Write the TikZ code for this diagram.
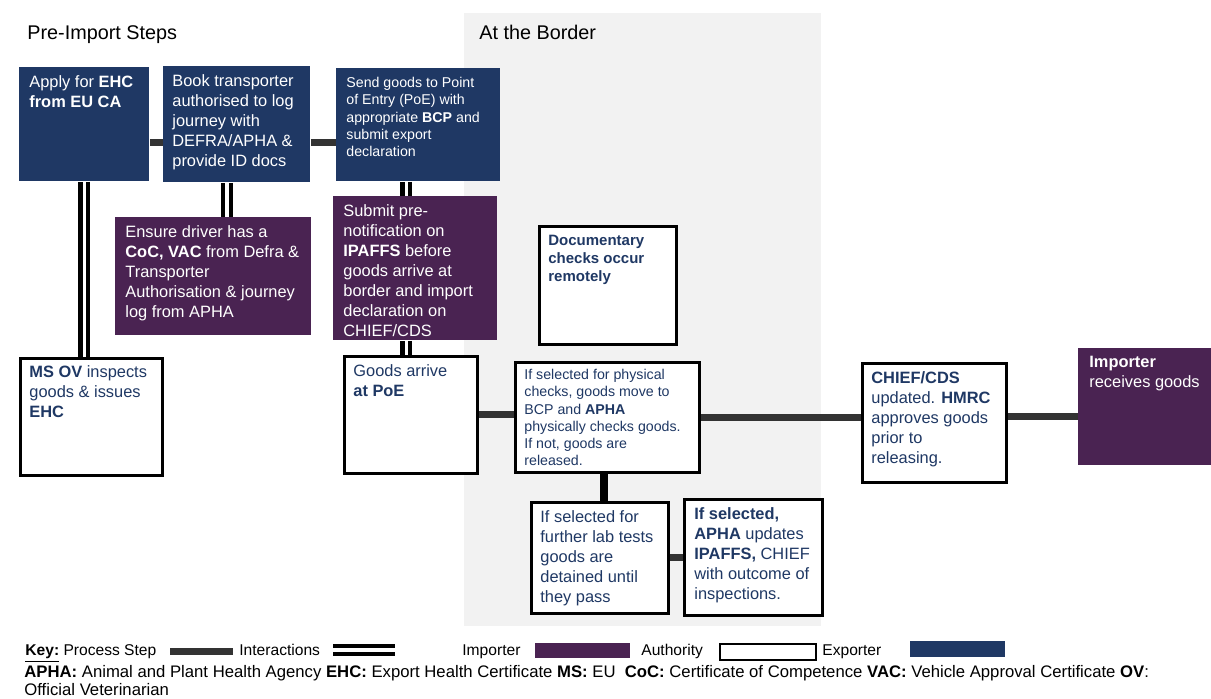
\documentclass[tikz,border=0pt]{standalone}
\usepackage{fontspec}
\setmainfont{Liberation Sans}
\usepackage{xcolor}
\usetikzlibrary{positioning}
\definecolor{expblue}{HTML}{1F3864}
\definecolor{imppurple}{HTML}{4A2352}
\definecolor{navy}{HTML}{1F3864}
\definecolor{borderbg}{HTML}{F2F2F2}
\definecolor{procgrey}{HTML}{333333}
\tikzset{
  exp/.style={anchor=north west, inner sep=0pt, fill=expblue},
  impbox/.style={anchor=north west, inner sep=0pt, fill=imppurple},
  auth/.style={anchor=north west, inner sep=0pt, fill=white, draw=black, line width=1.4pt},
  txt/.style={inner sep=0pt, align=left, font=\fontsize{8.2}{10}\selectfont, text=#1},
  txt/.default=navy,
  smalltxt/.style={font=\fontsize{7.1}{8.6}\selectfont},
  keytxt/.style={inner sep=0pt, anchor=base west, font=\fontsize{7.8}{9}\selectfont},
  abbrtxt/.style={inner sep=0pt, anchor=base west, font=\fontsize{8.35}{9}\selectfont},
  proc/.style={line width=3.5pt, draw=procgrey},
  inter/.style={draw=black, double=white, line width=2.2pt, double distance=1.6pt},
}
\pgfdeclarelayer{back}
\pgfdeclarelayer{links}
\pgfsetlayers{back,links,main}

\begin{document}
\begin{tikzpicture}[x=0.5pt, y=-0.5pt]
  \useasboundingbox (0,0) rectangle (1211,698);
  \begin{pgfonlayer}{back}
    \node[anchor=north west, inner sep=0pt, fill=borderbg, minimum width=178.5pt, minimum height=306.5pt] (border) at (464,13) {};
  \end{pgfonlayer}
  \node[anchor=base west, inner sep=0pt, font=\fontsize{9.9}{12}\selectfont] (pre) at (27,39) {Pre-Import Steps};
  \node[anchor=base west, inner sep=0pt, font=\fontsize{9.9}{12}\selectfont] (atb) at (479,39) {At the Border};

  % pre-import
  \node[exp, minimum width=65pt, minimum height=57pt] (ehc) at (19,67) {};
  \node[txt=white, below right=4pt and 5pt of ehc.north west] (ehc-t) {Apply for \textbf{EHC}\\\textbf{from EU CA}};
  \node[exp, minimum width=73.5pt, minimum height=58pt] (book) at (163,66) {};
  \node[txt=white, below right=4pt and 4.5pt of book.north west] (book-t) {Book transporter\\authorised to log\\journey with\\DEFRA/APHA \&\\provide ID docs};
  \node[exp, minimum width=82pt, minimum height=56.5pt] (send) at (336,68) {};
  \node[txt=white, smalltxt, below right=4.5pt and 5pt of send.north west] (send-t) {Send goods to Point\\of Entry (PoE) with\\appropriate \textbf{BCP} and\\submit export\\declaration};
  \node[impbox, minimum width=98pt, minimum height=59pt] (driver) at (115,217) {};
  \node[txt=white, below right=4pt and 5pt of driver.north west] (driver-t) {Ensure driver has a\\\textbf{CoC, VAC} from Defra \&\\Transporter\\Authorisation \& journey\\log from APHA};
  \node[impbox, minimum width=82pt, minimum height=72pt] (prenot) at (333,196) {};
  \node[txt=white, below right=4pt and 5pt of prenot.north west] (prenot-t) {Submit pre-\\notification on\\\textbf{IPAFFS} before\\goods arrive at\\border and import\\declaration on\\CHIEF/CDS};
  \node[auth, minimum width=71pt, minimum height=58.5pt] (msov) at (19,357) {};
  \node[txt, below right=4pt and 5pt of msov.north west] (msov-t) {\textbf{MS OV} inspects\\goods \& issues\\\textbf{EHC}};

  % at the border
  \node[auth, minimum width=66.5pt, minimum height=58.5pt] (arrive) at (343,355) {};
  \node[txt, below right=4.5pt and 5pt of arrive.north west] (arrive-t) {Goods arrive\\\textbf{at PoE}};
  \node[auth, minimum width=68.5pt, minimum height=59pt] (doc) at (538,225) {};
  \node[txt, font=\fontsize{7.5}{9}\selectfont\bfseries, below right=5pt and 5pt of doc.north west] (doc-t) {Documentary\\checks occur\\remotely};
  \node[auth, minimum width=92pt, minimum height=55pt] (phys) at (514,361) {};
  \node[txt, smalltxt, below right=4pt and 5pt of phys.north west] (phys-t) {If selected for physical\\checks, goods move to\\BCP and \textbf{APHA}\\physically checks goods.\\If not, goods are\\released.};
  \node[auth, minimum width=68.5pt, minimum height=55.5pt] (lab) at (530,501) {};
  \node[txt, below right=4.5pt and 5pt of lab.north west] (lab-t) {If selected for\\further lab tests\\goods are\\detained until\\they pass};
  \node[auth, minimum width=69pt, minimum height=58pt] (apha) at (683,498) {};
  \node[txt, below right=4.5pt and 5.5pt of apha.north west] (apha-t) {\textbf{If selected,}\\\textbf{APHA} updates\\\textbf{IPAFFS,} CHIEF\\with outcome of\\inspections.};
  \node[auth, minimum width=72pt, minimum height=59.5pt] (chief) at (861,362) {};
  \node[txt, below right=4.5pt and 5pt of chief.north west] (chief-t) {\textbf{CHIEF/CDS}\\updated. \textbf{HMRC}\\approves goods\\prior to\\releasing.};
  \node[impbox, minimum width=66.5pt, minimum height=58.5pt] (importer) at (1078,348) {};
  \node[txt=white, below right=4pt and 5.5pt of importer.north west] (importer-t) {\textbf{Importer}\\receives goods};

  % links
  \begin{pgfonlayer}{links}
    \draw[proc] ([yshift=-9pt]ehc.east) -- ([yshift=-9pt]ehc.east -| book.west);
    \draw[proc] ([yshift=-9pt]book.east) -- ([yshift=-9pt]book.east -| send.west);
    \draw[proc] (arrive.east) -- (arrive.east -| phys.west);
    \draw[proc] (phys.east) -- (phys.east -| chief.west);
    \draw[proc] ([yshift=3pt]chief.east) -- ([yshift=3pt]chief.east -| importer.west);
    \draw[line width=4pt] ([xshift=-1.5pt]phys.south) -- ([xshift=-1.5pt]phys.south |- lab.north);
    \draw[proc] (lab.east) -- (lab.east -| apha.west);
    \draw[inter] (ehc.south) -- (ehc.south |- msov.north);
    \draw[inter] ([xshift=-5pt]book.south) -- ([xshift=-5pt]book.south |- driver.north);
    \draw[inter] ([xshift=-6pt]send.south) -- ([xshift=-6pt]send.south |- prenot.north);
    \draw[inter] ([xshift=-4.5pt]prenot.south) -- ([xshift=-4.5pt]prenot.south |- arrive.north);
  \end{pgfonlayer}

  % key
  \node[keytxt] (k1) at (25,655) {\underline{\textbf{Key:}} Process Step};
  \coordinate (kp1) at (170,651);
  \coordinate (kp2) at (233,651);
  \draw[proc] (kp1) -- (kp2);
  \node[keytxt] (k2) at (239,655) {Interactions};
  \coordinate (ki1) at (333,650);
  \coordinate (ki2) at (395,650);
  \draw[inter, line width=1.6pt, double distance=2.4pt] (ki1) -- (ki2);
  \node[keytxt] (k3) at (462,655) {Importer};
  \node[impbox, minimum width=47.5pt, minimum height=7.5pt] (kimp) at (535,643) {};
  \node[keytxt] (k4) at (641,655) {Authority};
  \node[auth, line width=1pt, minimum width=48pt, minimum height=8pt] (kauth) at (719,643) {};
  \node[keytxt] (k5) at (822,655) {Exporter};
  \node[exp, minimum width=47.5pt, minimum height=8pt] (kexp) at (910,641) {};
  \node[abbrtxt] (abbr) at (24,677) {\textbf{APHA:} Animal and Plant Health Agency \textbf{EHC:} Export Health Certificate \textbf{MS:} EU\ \ \textbf{CoC:} Certificate of Competence \textbf{VAC:} Vehicle Approval Certificate \textbf{OV}:};
  \node[abbrtxt] (abbr2) at (24,695) {Official Veterinarian};
\end{tikzpicture}
\end{document}
